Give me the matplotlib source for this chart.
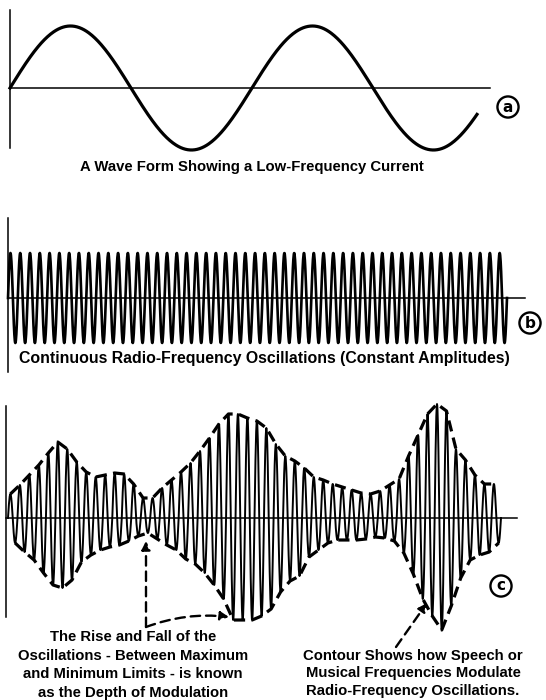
import numpy as np
import matplotlib.pyplot as plt
from matplotlib.patches import FancyArrowPatch

# ---- values ----
# (a) low-frequency current: number of cycles drawn and peak height (px)
a_cycles = 1.93
a_amp = 62

# (b) radio-frequency carrier, constant amplitude
b_cycles = 51
b_amp = 45

# (c) modulated carrier: height of each cycle's crest above the axis
# and of its trough below the axis (px)
c_upper = [24, 33, 43, 53, 65, 76, 69, 56, 46, 41, 43, 45, 44, 34, 20, 20, 30, 38,
           46, 55, 67, 80, 94, 104, 104, 100, 97, 90, 74, 62, 57, 50, 41, 38, 34, 31,
           28, 25, 24, 27, 33, 39, 62, 83, 104, 114, 107, 69, 58, 43, 34, 34]
c_lower = [25, 34, 42, 55, 67, 70, 62, 44, 37, 32, 29, 27, 23, 18, 15, 21, 27, 32,
           41, 46, 55, 67, 81, 102, 102, 102, 98, 91, 74, 63, 58, 39, 32, 25, 22, 22,
           22, 21, 19, 20, 23, 35, 56, 81, 98, 112, 88, 60, 42, 37, 34, 25]

captions = ["A Wave Form Showing a Low-Frequency Current",
            "Continuous Radio-Frequency Oscillations (Constant Amplitudes)"]
note_left = ["The Rise and Fall of the", "Oscillations - Between Maximum",
             "and Minimum Limits - is known", "as the Depth of Modulation"]
note_right = ["Contour Shows how Speech or", "Musical Frequencies Modulate",
              "Radio-Frequency Oscillations."]

# ---- layout (pixel space of the page) ----
W, H = 546, 700
fig = plt.figure(figsize=(W / 100, H / 100), dpi=100)
ax = fig.add_axes([0, 0, 1, 1])
ax.set_xlim(0, W)
ax.set_ylim(H, 0)
ax.axis('off')

font = dict(family=['Liberation Sans', 'DejaVu Sans'], weight='bold', fontsize=10.7)

# panel a
ax_y = 88
ax.plot([10, 10], [10, 148], color='black', lw=1.1)
ax.plot([10, 490], [ax_y, ax_y], color='black', lw=1.1)
x0, x1 = 10, 477
t = np.linspace(0, a_cycles, 600)
x = x0 + (x1 - x0) * t / a_cycles
ax.plot(x, ax_y - a_amp * np.sin(2 * np.pi * t), color='black', lw=2.3)
ax.text(252, 167, captions[0], ha='center', va='center', **font)

# panel b
ax_y = 298
ax.plot([8, 8], [218, 372], color='black', lw=1.1)
ax.plot([8, 525], [ax_y, ax_y], color='black', lw=1.1)
x0, x1 = 8, 507
t = np.linspace(0, b_cycles, b_cycles * 40)
x = x0 + (x1 - x0) * t / b_cycles
ax.plot(x, ax_y - b_amp * np.sin(2 * np.pi * t), color='black', lw=1.9)
ax.text(264, 358, captions[1], ha='center', va='center',
        **{**font, 'fontsize': 11.4})

# panel c
ax_y = 518
ax.plot([6, 6], [406, 617], color='black', lw=1.1)
ax.plot([6, 517], [ax_y, ax_y], color='black', lw=1.1)
n = len(c_upper)
x0, x1 = 8, 501
per = (x1 - x0) / n
xs, ys = [], []
for k in range(n):
    tt = np.linspace(0, 1, 40, endpoint=False)
    s = np.sin(2 * np.pi * tt)
    amp = np.where(s > 0, c_upper[k], c_lower[k])
    xs.append(x0 + per * (k + tt))
    ys.append(ax_y - s * amp)
xs = np.concatenate(xs + [[x1]])
ys = np.concatenate(ys + [[ax_y]])
ax.plot(xs, ys, color='black', lw=1.4)

# dashed contour over crests and troughs
kk = np.arange(n)
ax.plot(x0 + per * (kk + 0.25), ax_y - np.array(c_upper), color='black', lw=2.3,
        ls=(0, (3.5, 2)))
ax.plot(x0 + per * (kk + 0.75), ax_y + np.array(c_lower), color='black', lw=2.3,
        ls=(0, (3.5, 2)))

arrow_kw = dict(arrowstyle='-|>,head_length=5,head_width=2.5', color='black', lw=1.7,
                linestyle=(0, (4, 2.5)), shrinkA=0, shrinkB=0)
ax.add_patch(FancyArrowPatch((146, 627), (146, 541), **arrow_kw))
ax.add_patch(FancyArrowPatch((146, 627), (229, 617), connectionstyle='arc3,rad=-0.12',
                             **arrow_kw))
ax.add_patch(FancyArrowPatch((396, 647), (427, 603), **arrow_kw))

for i, line in enumerate(note_left):
    ax.text(133, 637 + 18.5 * i, line, ha='center', va='center', **font)
for i, line in enumerate(note_right):
    ax.text(413, 656 + 17.5 * i, line, ha='center', va='center', **font)

# circled panel letters
for lab, (lx, ly) in zip('abc', [(508, 107), (530, 323), (501, 586)]):
    ax.text(lx, ly, lab, ha='center', va='center', family='DejaVu Sans',
            weight='bold', fontsize=11,
            bbox=dict(boxstyle='circle,pad=0.2', fc='white', ec='black', lw=1.7))

fig.savefig('out.png', dpi=100, facecolor='white')
